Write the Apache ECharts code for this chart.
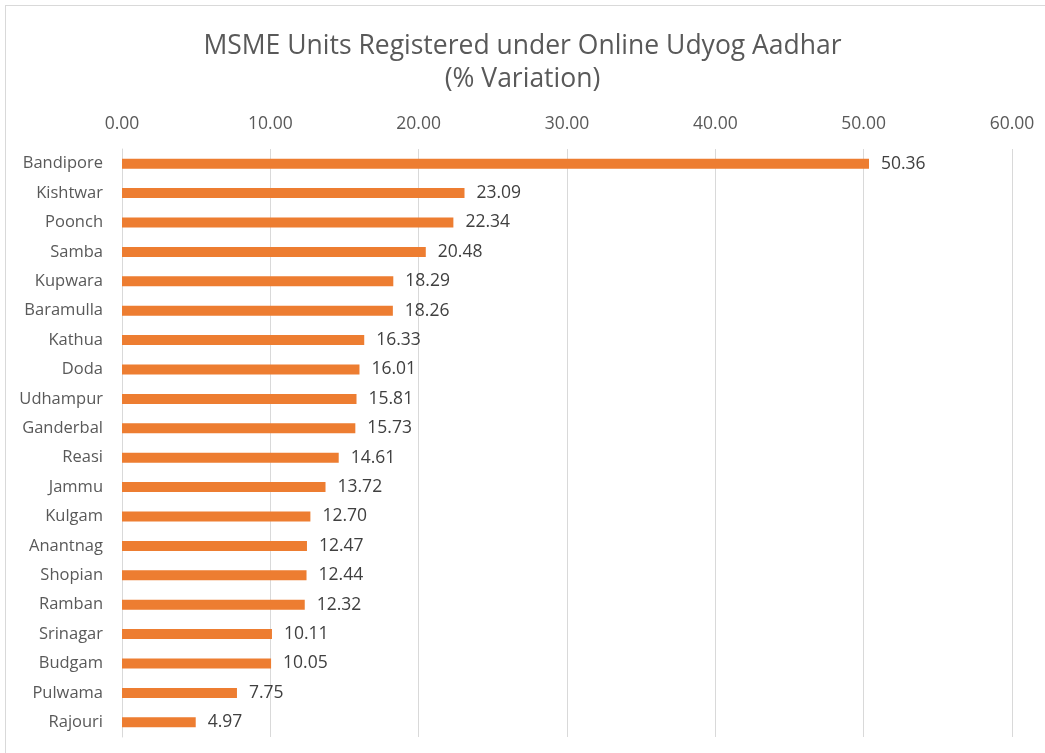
<!DOCTYPE html>
<html>
<head>
<meta charset="utf-8">
<script src="https://cdn.jsdelivr.net/npm/echarts@6/dist/echarts.min.js"></script>
<style>
  html, body { margin: 0; padding: 0; background: #fff; }
  #app { width: 1045px; height: 753px; }
</style>
</head>
<body>
<div id="app"></div>
<script>
var districts = ['Bandipore', 'Kishtwar', 'Poonch', 'Samba', 'Kupwara', 'Baramulla', 'Kathua', 'Doda',
    'Udhampur', 'Ganderbal', 'Reasi', 'Jammu', 'Kulgam', 'Anantnag', 'Shopian', 'Ramban',
    'Srinagar', 'Budgam', 'Pulwama', 'Rajouri'];
var variation = [50.36, 23.09, 22.34, 20.48, 18.29, 18.26, 16.33, 16.01, 15.81, 15.73,
    14.61, 13.72, 12.70, 12.47, 12.44, 12.32, 10.11, 10.05, 7.75, 4.97];

var myChart = echarts.init(document.getElementById('app'));
var fontFam = '"Open Sans", sans-serif';
var option = {
    backgroundColor: '#ffffff',
    animation: false,
    title: {
        text: 'MSME Units Registered under Online Udyog Aadhar\n(% Variation)',
        left: 'center',
        top: 25,
        textStyle: {
            color: '#595959',
            fontFamily: fontFam,
            fontWeight: 'normal',
            fontSize: 26.5,
            lineHeight: 33
        }
    },
    graphic: [
        { type: 'line', shape: { x1: 5, y1: 5.5, x2: 1045, y2: 5.5 }, style: { stroke: '#d9d9d9', lineWidth: 1 } },
        { type: 'line', shape: { x1: 5.5, y1: 5, x2: 5.5, y2: 753 }, style: { stroke: '#d9d9d9', lineWidth: 1 } }
    ],
    grid: { left: 122, right: 33, top: 149, height: 588, containLabel: false },
    xAxis: {
        type: 'value',
        position: 'top',
        min: 0,
        max: 60,
        interval: 10,
        axisLine: { show: false },
        axisTick: { show: false },
        splitLine: { lineStyle: { color: '#d9d9d9', width: 1 } },
        axisLabel: {
            color: '#595959',
            fontSize: 17.5,
            fontFamily: fontFam,
            margin: 16,
            formatter: function (v) { return v.toFixed(2); }
        }
    },
    yAxis: {
        type: 'category',
        inverse: true,
        data: districts,
        axisLine: { show: true, lineStyle: { color: '#d9d9d9' } },
        axisTick: { show: false },
        axisLabel: { color: '#595959', fontSize: 16.5, fontFamily: fontFam, margin: 19 }
    },
    series: [{
        type: 'bar',
        data: variation,
        barWidth: 10,
        itemStyle: { color: '#ED7D31' },
        label: {
            show: true,
            position: 'right',
            distance: 12,
            color: '#404040',
            fontSize: 17.5,
            fontFamily: fontFam,
            formatter: function (p) { return p.value.toFixed(2); }
        }
    }]
};
myChart.setOption(option);
</script>
</body>
</html>
